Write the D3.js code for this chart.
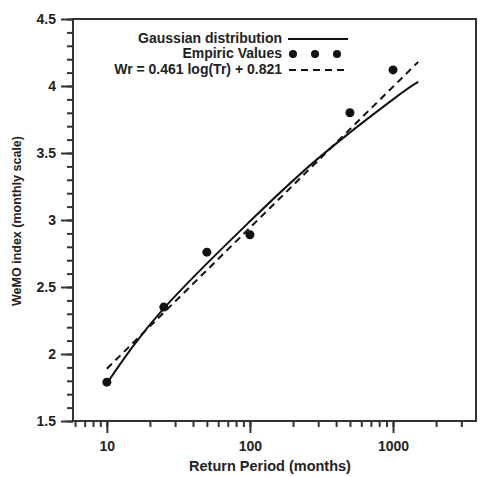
<!DOCTYPE html>
<html>
<head>
<meta charset="utf-8">
<script src="https://cdn.jsdelivr.net/npm/d3@7"></script>
<style>
  body { margin: 0; background: #fff; }
  text { font-family: "Liberation Sans", Arial, sans-serif; font-weight: bold; fill: #222; }
</style>
</head>
<body>
<div id="chart"></div>
<script>
// empirical return levels
var empiric = [[10, 1.79], [25, 2.35], [50, 2.76], [100, 2.89], [500, 3.80], [1000, 4.12]];
// gaussian distribution curve
var gaussian = [[10, 1.78], [25, 2.34], [100, 2.99], [300, 3.46], [1000, 3.90], [1500, 4.03]];
// regression line end points
var fitLine = [[10, 1.89], [1500, 4.18]];
var yTicks = [1.5, 2, 2.5, 3, 3.5, 4, 4.5];
var xTicks = [10, 100, 1000];
var legendLabels = ["Gaussian distribution", "Empiric Values", "Wr = 0.461 log(Tr) + 0.821"];

function main() {
    var W = 484, H = 477;
    var left = 73, right = 476, top = 19, bottom = 421;

    var svg = d3.select("#chart").append("svg")
        .attr("width", W)
        .attr("height", H);

    var x = d3.scaleLog().domain([5.8, 3800]).range([left, right]);
    var y = d3.scaleLinear().domain([1.5, 4.5]).range([bottom, top]);

    // minor ticks
    var yMinor = d3.range(15, 46).map(function (d) { return d / 10; });
    var xMinor = [];
    [1, 10, 100, 1000].forEach(function (dec) {
        for (var k = 1; k < 10; k++) {
            var v = dec * k;
            if (v >= 5.8 && v <= 3800) xMinor.push(v);
        }
    });

    // y axis
    svg.append("g")
        .attr("transform", "translate(" + left + ",0)")
        .call(d3.axisLeft(y).tickValues(yMinor).tickSize(6).tickFormat(""))
        .call(function (g) { g.select(".domain").remove(); })
        .selectAll("line").attr("stroke", "#333").attr("stroke-width", 2);
    var yAx = svg.append("g")
        .attr("transform", "translate(" + left + ",0)")
        .call(d3.axisLeft(y).tickValues(yTicks).tickSize(12).tickPadding(5)
            .tickFormat(function (d) { return String(d); }));
    yAx.select(".domain").remove();
    yAx.selectAll("line").attr("stroke", "#333").attr("stroke-width", 2);
    yAx.selectAll("text").attr("font-size", 14).attr("fill", "#222");

    // x axis
    svg.append("g")
        .attr("transform", "translate(0," + bottom + ")")
        .call(d3.axisBottom(x).tickValues(xMinor).tickSize(6).tickFormat(""))
        .call(function (g) { g.select(".domain").remove(); })
        .selectAll("line").attr("stroke", "#333").attr("stroke-width", 2);
    var xAx = svg.append("g")
        .attr("transform", "translate(0," + bottom + ")")
        .call(d3.axisBottom(x).tickValues(xTicks).tickSize(12).tickPadding(8)
            .tickFormat(function (d) { return String(d); }));
    xAx.select(".domain").remove();
    xAx.selectAll("line").attr("stroke", "#333").attr("stroke-width", 2);
    xAx.selectAll("text").attr("font-size", 14).attr("fill", "#222");

    // frame
    svg.append("rect")
        .attr("x", left).attr("y", top)
        .attr("width", right - left).attr("height", bottom - top)
        .attr("fill", "none").attr("stroke", "#333").attr("stroke-width", 2);

    // axis titles
    svg.append("text")
        .attr("x", 270).attr("y", 471)
        .attr("text-anchor", "middle")
        .attr("font-size", 14.5)
        .text("Return Period (months)");
    svg.append("text")
        .attr("transform", "translate(21,221) rotate(-90)")
        .attr("text-anchor", "middle")
        .attr("font-size", 12.5)
        .text("WeMO index (monthly scale)");

    var line = d3.line()
        .x(function (d) { return x(d[0]); })
        .y(function (d) { return y(d[1]); });

    // gaussian curve
    svg.append("path")
        .attr("d", line.curve(d3.curveNatural)(gaussian))
        .attr("fill", "none").attr("stroke", "#111").attr("stroke-width", 2);

    // regression line
    svg.append("path")
        .attr("d", line.curve(d3.curveLinear)(fitLine))
        .attr("fill", "none").attr("stroke", "#111").attr("stroke-width", 2)
        .attr("stroke-dasharray", "7,5");

    // empirical dots
    svg.append("g").selectAll("circle")
        .data(empiric)
        .join("circle")
        .attr("cx", function (d) { return x(d[0]); })
        .attr("cy", function (d) { return y(d[1]); })
        .attr("r", 4.5)
        .attr("fill", "#111");

    // legend
    var lg = svg.append("g");
    var rowY = [43, 58, 74];
    lg.selectAll("text")
        .data(legendLabels)
        .join("text")
        .attr("x", 282)
        .attr("y", function (d, i) { return rowY[i]; })
        .attr("text-anchor", "end")
        .attr("font-size", 14)
        .text(function (d) { return d; });
    lg.append("line")
        .attr("x1", 288).attr("x2", 348).attr("y1", 39).attr("y2", 39)
        .attr("stroke", "#111").attr("stroke-width", 2);
    lg.selectAll("circle")
        .data([293, 315, 337])
        .join("circle")
        .attr("cx", function (d) { return d; })
        .attr("cy", 54)
        .attr("r", 4)
        .attr("fill", "#111");
    lg.append("line")
        .attr("x1", 289).attr("x2", 348).attr("y1", 70).attr("y2", 70)
        .attr("stroke", "#111").attr("stroke-width", 2)
        .attr("stroke-dasharray", "7,5");
}

main()
</script>
</body>
</html>
